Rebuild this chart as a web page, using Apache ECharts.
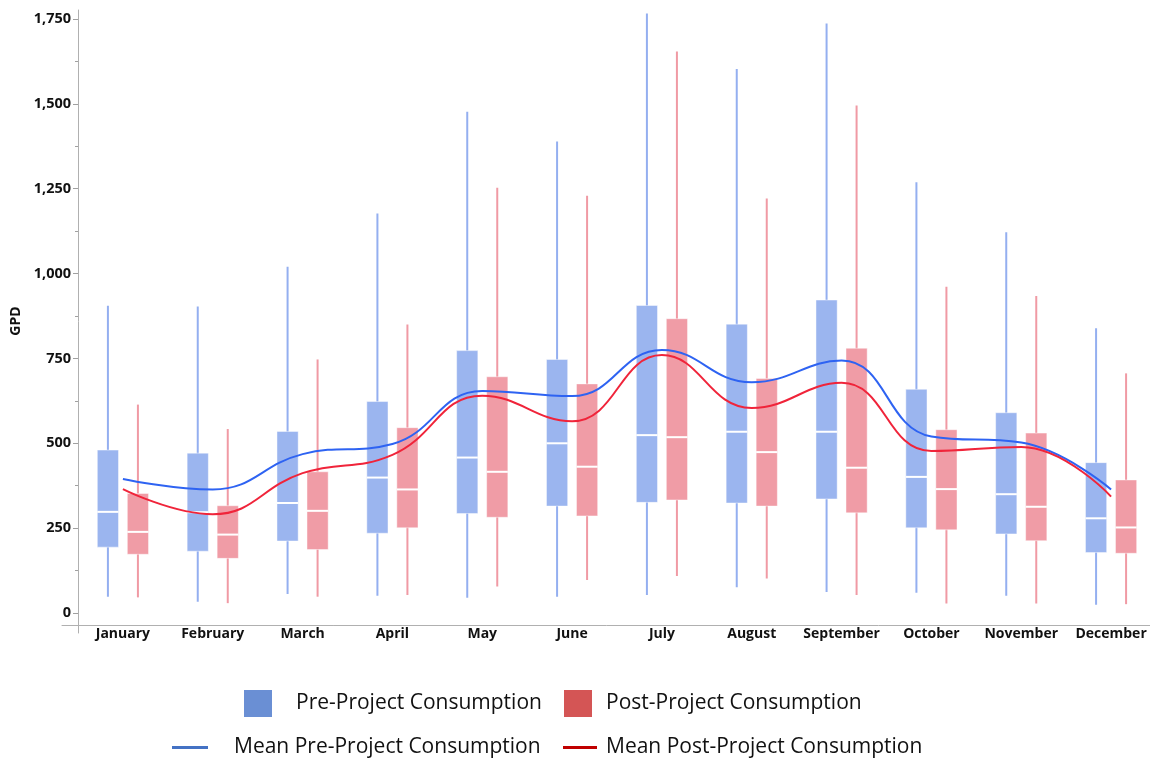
<!DOCTYPE html>
<html>
<head>
<meta charset="utf-8">
<script src="https://cdn.jsdelivr.net/npm/echarts@6/dist/echarts.min.js"></script>
<style>
  html, body { margin: 0; padding: 0; background: #fff; }
  #chart { width: 1150px; height: 760px; }
</style>
</head>
<body>
<div id="chart"></div>
<script>
// Monthly household water use (gallons per day), before and after the project
const months = ['January', 'February', 'March', 'April', 'May', 'June',
  'July', 'August', 'September', 'October', 'November', 'December'];

// Pre-project distribution per month
const preLow  = [48, 33, 56, 51, 45, 48, 53, 76, 62, 60, 51, 24];
const preQ1   = [194, 182, 212, 235, 293, 315, 326, 324, 336, 251, 233, 178];
const preMed  = [298, 297, 324, 399, 458, 500, 524, 534, 534, 401, 350, 279];
const preQ3   = [480, 471, 535, 623, 773, 747, 906, 851, 922, 659, 590, 443];
const preHigh = [905, 903, 1020, 1177, 1477, 1389, 1766, 1603, 1737, 1269, 1122, 839];

// Post-project distribution per month
const postLow  = [46, 29, 48, 53, 78, 97, 109, 102, 53, 28, 28, 26];
const postQ1   = [173, 161, 187, 251, 282, 286, 333, 315, 295, 245, 213, 176];
const postMed  = [239, 231, 301, 364, 416, 431, 518, 474, 428, 365, 313, 252];
const postQ3   = [352, 316, 416, 546, 696, 675, 867, 691, 780, 540, 530, 392];
const postHigh = [614, 542, 747, 850, 1253, 1229, 1654, 1221, 1495, 961, 934, 706];

// Monthly means
const preMean  = [395, 364, 468, 498, 654, 639, 775, 680, 744, 520, 502, 364];
const postMean = [365, 291, 412, 466, 640, 565, 760, 604, 678, 477, 489, 343];

// Value axis ticks
const yMin = 0, yMax = 1750, yStep = 250;

const FONT = '"Open Sans", "Noto Sans", sans-serif';

function boxRows(low, q1, med, q3, high) {
  return months.map((m, i) => [i, low[i], q1[i], med[i], q3[i], high[i]]);
}

// Box with a plain whisker line (no caps) and a white median bar
function boxRenderer(side, fill, whiskerColor) {
  return function (params, api) {
    const idx = api.value(0);
    const band = api.size([1, 0])[0];
    const cx = api.coord([idx, 0])[0] + side * band * 0.167;
    const w = band * 0.236;
    const yLow = api.coord([idx, api.value(1)])[1];
    const yQ1 = api.coord([idx, api.value(2)])[1];
    const yMed = api.coord([idx, api.value(3)])[1];
    const yQ3 = api.coord([idx, api.value(4)])[1];
    const yHigh = api.coord([idx, api.value(5)])[1];
    return {
      type: 'group',
      children: [
        { type: 'line', shape: { x1: cx, y1: yHigh, x2: cx, y2: yLow },
          style: { stroke: whiskerColor, lineWidth: 2 } },
        { type: 'rect', shape: { x: cx - w / 2, y: yQ3, width: w, height: yQ1 - yQ3 },
          style: { fill: fill, stroke: 'rgba(255,255,255,0.45)', lineWidth: 1 } },
        { type: 'line', shape: { x1: cx - w / 2, y1: yMed, x2: cx + w / 2, y2: yMed },
          style: { stroke: '#ffffff', lineWidth: 2 } }
      ]
    };
  };
}

function legendItem(name, icon, color, left, top, w, h, gap) {
  return {
    left: left, top: top, padding: 0, itemWidth: w, itemHeight: h,
    selectedMode: false,
    data: [{ name: name, icon: icon, itemStyle: { color: color } }],
    textStyle: { fontFamily: FONT, fontSize: 21, color: '#111', padding: [0, 0, 0, gap] }
  };
}

const chart = echarts.init(document.getElementById('chart'));
chart.setOption({
  animation: false,
  backgroundColor: '#ffffff',
  textStyle: { fontFamily: FONT },
  legend: [
    legendItem('Pre-Project Consumption', 'rect', '#6a8fd4', 244, 690, 28, 27, 19),
    legendItem('Post-Project Consumption', 'rect', '#d45555', 564, 690, 28, 27, 9),
    legendItem('Mean Pre-Project Consumption', 'rect', '#4472c4', 172, 737, 36, 3, 21),
    legendItem('Mean Post-Project Consumption', 'rect', '#c00000', 563, 737, 34, 3, 4)
  ],
  grid: [
    { left: 78, right: -6, top: 19, bottom: 147, outerBoundsMode: 'none' },
    // frame lines: vertical value-axis rule and horizontal base rule
    { left: 62, right: -6, top: 10, bottom: 127, outerBoundsMode: 'none' }
  ],
  xAxis: [
    {
      type: 'category', gridIndex: 0, data: months, boundaryGap: true,
      axisLine: { show: false }, axisTick: { show: false },
      axisLabel: { interval: 0, hideOverlap: false, fontFamily: FONT, fontSize: 14,
        fontWeight: 'bold', color: '#111', margin: 14 },
      splitLine: { show: false }
    },
    {
      type: 'value', gridIndex: 1, min: 0, max: 1, offset: -8,
      axisLine: { show: true, lineStyle: { color: '#b0b0b0', width: 1 } },
      axisTick: { show: false }, axisLabel: { show: false }, splitLine: { show: false }
    }
  ],
  yAxis: [
    {
      type: 'value', gridIndex: 0, min: yMin, max: yMax, interval: yStep,
      name: 'GPD', nameLocation: 'middle', nameGap: 53, nameRotate: 90,
      nameTextStyle: { fontFamily: FONT, fontSize: 14, fontWeight: 'bold', color: '#111',
        padding: [0, 10, 0, 0] },
      axisLine: { show: false },
      axisTick: { show: true, length: 5, lineStyle: { color: '#a0a0a0' } },
      minorTick: { show: true, splitNumber: 2, length: 3, lineStyle: { color: '#a0a0a0' } },
      axisLabel: {
        fontFamily: FONT, fontSize: 14.5, fontWeight: 'bold', color: '#111', margin: 7,
        formatter: v => v.toLocaleString('en-US')
      },
      splitLine: { show: false }
    },
    {
      type: 'value', gridIndex: 1, min: 0, max: 1, offset: -16,
      axisLine: { show: true, lineStyle: { color: '#b0b0b0', width: 1 } },
      axisTick: { show: false }, axisLabel: { show: false }, splitLine: { show: false }
    }
  ],
  series: [
    {
      name: 'Pre-Project Consumption', type: 'custom', xAxisIndex: 0, yAxisIndex: 0, z: 2,
      renderItem: boxRenderer(-1, '#9bb5ef', '#94aff0'),
      encode: { x: 0, y: [1, 2, 3, 4, 5] },
      data: boxRows(preLow, preQ1, preMed, preQ3, preHigh)
    },
    {
      name: 'Post-Project Consumption', type: 'custom', xAxisIndex: 0, yAxisIndex: 0, z: 2,
      renderItem: boxRenderer(1, '#f09ca6', '#f09aa4'),
      encode: { x: 0, y: [1, 2, 3, 4, 5] },
      data: boxRows(postLow, postQ1, postMed, postQ3, postHigh)
    },
    {
      name: 'Mean Pre-Project Consumption', type: 'line', xAxisIndex: 0, yAxisIndex: 0, z: 4,
      data: preMean, smooth: 0.45, showSymbol: false, symbol: 'none',
      lineStyle: { color: '#2e63f2', width: 2 }, itemStyle: { color: '#2e63f2' }
    },
    {
      name: 'Mean Post-Project Consumption', type: 'line', xAxisIndex: 0, yAxisIndex: 0, z: 4,
      data: postMean, smooth: 0.45, showSymbol: false, symbol: 'none',
      lineStyle: { color: '#f0243a', width: 2 }, itemStyle: { color: '#f0243a' }
    }
  ]
});
</script>
</body>
</html>
